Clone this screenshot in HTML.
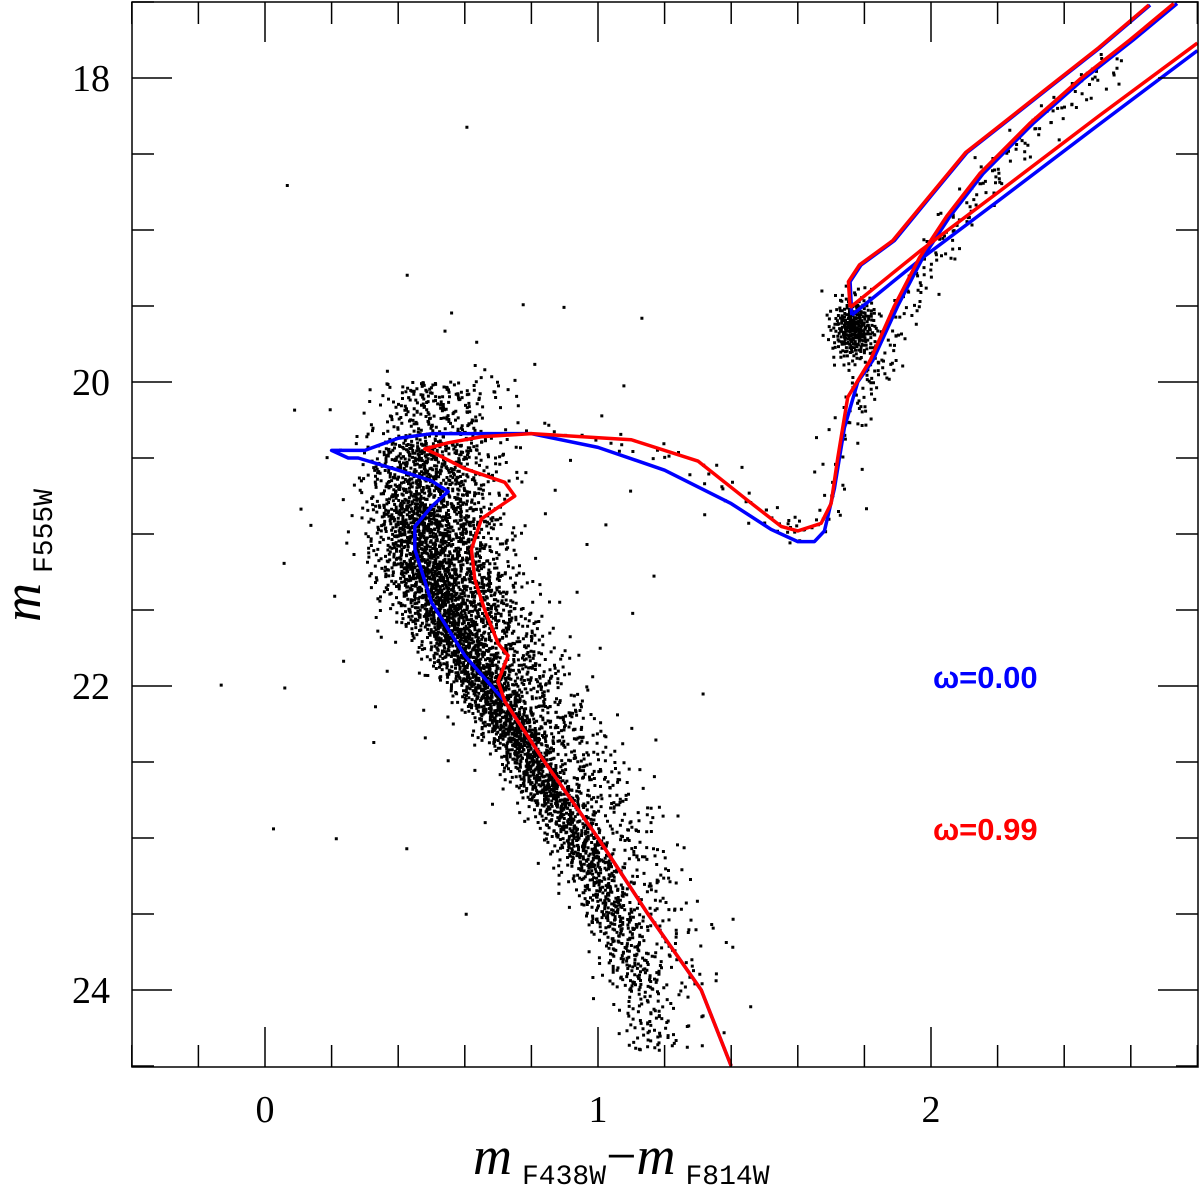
<!DOCTYPE html>
<html><head><meta charset="utf-8"><style>
html,body{margin:0;padding:0;background:#fff}
svg{display:block}
</style></head><body>
<svg id="chart" width="1200" height="1190">
<g id="stars"></g>
<g id="lines"></g>
<rect x="132" y="2" width="1066" height="1065" fill="none" stroke="#000" stroke-width="1.5"/>
<g id="axes"></g>
<text x="933" y="688" style="font-family:'Liberation Sans',sans-serif;font-weight:bold;font-size:31px" fill="#0000ff">ω=0.00</text>
<text x="933" y="840" style="font-family:'Liberation Sans',sans-serif;font-weight:bold;font-size:31px" fill="#ff0000">ω=0.99</text>
<text x="473" y="1174" style="font-family:'Liberation Serif',serif;font-size:54px;font-style:italic">m<tspan style="font-style:normal;font-family:'Liberation Mono',monospace;font-size:28px" dx="10" dy="10">F438W</tspan><tspan dy="-10" style="font-style:normal">−</tspan>m<tspan style="font-style:normal;font-family:'Liberation Mono',monospace;font-size:28px" dx="10" dy="10">F814W</tspan></text>
<text transform="translate(40,622) rotate(-90)" style="font-family:'Liberation Serif',serif;font-size:54px;font-style:italic">m<tspan style="font-style:normal;font-family:'Liberation Mono',monospace;font-size:28px" dx="10" dy="12">F555W</tspan></text>
</svg>
<script>
const xTicks=[0,1,2];
const yTicks=[18,20,22,24];
// Isochrone omega=0.00 (blue)
const blueMS=[[1.40,24.5],[1.31,24.0],[1.15,23.5],[1.0,23.0],[0.84,22.5],[0.72,22.1],[0.6,21.8],[0.5,21.45],[0.45,21.1],[0.45,20.95],[0.5,20.82],[0.55,20.72],[0.5,20.65],[0.4,20.58],[0.28,20.5],[0.25,20.5],[0.2,20.45],[0.3,20.45],[0.4,20.37],[0.5,20.34],[0.8,20.34],[1.0,20.43],[1.2,20.58],[1.4,20.8],[1.52,20.97],[1.6,21.05],[1.65,21.05],[1.68,20.98],[1.71,20.7],[1.74,20.3],[1.78,20.0],[1.826,19.855],[1.9,19.5],[1.976,19.18],[2.057,18.91],[2.156,18.63],[2.306,18.30],[2.456,18.01],[2.607,17.75],[2.739,17.51]];
const blueHB=[[1.762,19.56],[1.976,19.18],[2.207,18.80],[2.508,18.30],[2.8,17.82]];
const blueAGB=[[1.762,19.56],[1.757,19.34],[1.79,19.23],[1.89,19.07],[2.006,18.76],[2.108,18.49],[2.207,18.32],[2.357,18.06],[2.508,17.80],[2.658,17.52]];
// Isochrone omega=0.99 (red)
const redMS=[[1.40,24.5],[1.31,24.0],[1.15,23.5],[1.0,23.0],[0.84,22.5],[0.72,22.1],[0.7,21.97],[0.73,21.8],[0.7,21.72],[0.66,21.5],[0.63,21.3],[0.62,21.1],[0.65,20.9],[0.75,20.75],[0.72,20.66],[0.6,20.57],[0.52,20.48],[0.48,20.44],[0.55,20.4],[0.65,20.36],[0.8,20.34],[1.1,20.38],[1.3,20.52],[1.45,20.78],[1.55,20.95],[1.6,20.98],[1.67,20.93],[1.7,20.8],[1.72,20.5],[1.75,20.1],[1.818,19.855],[1.89,19.5],[1.966,19.18],[2.047,18.91],[2.146,18.63],[2.296,18.30],[2.446,18.01],[2.597,17.75],[2.729,17.51]];
const redHB=[[1.757,19.51],[1.972,19.13],[2.203,18.75],[2.504,18.25],[2.8,17.77]];
const redAGB=[[1.757,19.51],[1.752,19.34],[1.785,19.23],[1.885,19.07],[2.002,18.76],[2.104,18.49],[2.203,18.32],[2.353,18.06],[2.504,17.80],[2.654,17.52]];
// Star population components
const msRidgeMag=[20.0,20.4,20.8,21.2,21.6,22.0,22.4,22.8,23.2,23.6,24.0,24.4];
const msRidgeColor=[0.50,0.47,0.46,0.49,0.56,0.67,0.78,0.89,0.99,1.07,1.13,1.18];
const msSpread=[0.08,0.08,0.075,0.075,0.065,0.055,0.05,0.05,0.05,0.05,0.05,0.05];
const msCount=[200,480,700,760,660,600,460,330,240,160,80,30];
const binaryCount=[30,90,130,140,120,100,80,60,45,30,12,3];
const clump=[1.77,19.65,0.035,0.11,300];
const rgbCount=220;
const fieldCount=110;

const X=c=>265+(c)*333, Y=m=>78+(m-18)*152;
const NS='http://www.w3.org/2000/svg';
const ax=document.getElementById('axes');
function ln(x1,y1,x2,y2,name){const l=document.createElementNS(NS,'line');l.setAttribute('x1',x1);l.setAttribute('y1',y1);l.setAttribute('x2',x2);l.setAttribute('y2',y2);l.setAttribute('stroke','#000');l.setAttribute('stroke-width','1.5');


ax.appendChild(l);}
for(let v=-0.4;v<=2.81;v+=0.2){const x=X(v);const major=Math.abs(v-Math.round(v))<1e-6;const L=major?40:22;ln(x,1067,x,1067-L,'x-tick');ln(x,2,x,2+L,'x-tick');}
for(let m=17.5;m<=24.51;m+=0.5){const y=Y(m);const major=Math.abs(m-Math.round(m))<1e-6&&Math.round(m)%2==0;const L=major?40:22;ln(132,y,132+L,y,'y-tick');ln(1198,y,1198-L,y,'y-tick');}
xTicks.forEach(v=>{const t=document.createElementNS(NS,'text');t.setAttribute('x',X(v));t.setAttribute('y',1122);t.setAttribute('text-anchor','middle');t.setAttribute('style',"font-family:'Liberation Serif',serif;font-size:38px");t.textContent=v;


ax.appendChild(t);});
yTicks.forEach(v=>{const t=document.createElementNS(NS,'text');t.setAttribute('x',110);t.setAttribute('y',Y(v)+13);t.setAttribute('text-anchor','end');t.setAttribute('style',"font-family:'Liberation Serif',serif;font-size:38px");t.textContent=v;


ax.appendChild(t);});

const lg=document.getElementById('lines');
function poly(pts,col){const p=document.createElementNS(NS,'polyline');p.setAttribute('points',pts.map(q=>X(q[0])+','+Y(q[1])).join(' '));p.setAttribute('fill','none');p.setAttribute('stroke',col);p.setAttribute('stroke-width','3.5');p.setAttribute('stroke-linejoin','round');


lg.appendChild(p);}
[blueMS,blueHB,blueAGB].forEach(a=>poly(a,'#0000ff'));
[redMS,redHB,redAGB].forEach(a=>poly(a,'#ff0000'));

function halton(i,b){let f=1,r=0;while(i>0){f/=b;r+=f*(i%b);i=Math.floor(i/b);}return r;}
let hi=1;
function g2(){const u=Math.max(1e-4,halton(hi,2)),v=halton(hi,3),w=halton(hi,5);hi++;const r=Math.sqrt(-2*Math.log(u));return [r*Math.cos(2*Math.PI*v),r*Math.sin(2*Math.PI*v),w];}
const sg=document.getElementById('stars');let d='';
function dot(c,m){const x=X(c),y=Y(m);if(x<134||x>1196||y<4||y>1065)return;d+='M'+(x-1.5).toFixed(1)+' '+(y-1.5).toFixed(1)+'h3v3h-3z';}
function interp(pts,t){const n=pts.length-1;const s=t*n;const i=Math.min(n-1,Math.floor(s));const f=s-i;return [pts[i][0]+(pts[i+1][0]-pts[i][0])*f,pts[i][1]+(pts[i+1][1]-pts[i][1])*f];}
for(let k=0;k<msRidgeMag.length-1;k++){
 for(let j=0;j<msCount[k];j++){const g=g2();const m=msRidgeMag[k]+(msRidgeMag[k+1]-msRidgeMag[k])*g[2];const c=msRidgeColor[k]+(msRidgeColor[k+1]-msRidgeColor[k])*g[2]+g[0]*msSpread[k];dot(c,m);}
 for(let j=0;j<binaryCount[k];j++){const g=g2();const m=msRidgeMag[k]+(msRidgeMag[k+1]-msRidgeMag[k])*g[2];const c=msRidgeColor[k]+(msRidgeColor[k+1]-msRidgeColor[k])*g[2]+0.1+Math.abs(g[0])*0.08;dot(c,m-Math.abs(g[1])*0.1);}
}
for(let j=0;j<clump[4];j++){const g=g2();dot(clump[0]+g[0]*clump[2],clump[1]+g[1]*clump[3]);}
for(let j=0;j<rgbCount;j++){const g=g2();const p=interp(blueMS.slice(29),g[2]*0.85);dot(p[0]+0.03+g[0]*0.03,p[1]+g[1]*0.05);}
for(let j=0;j<80;j++){const g=g2();const p=interp(redMS.slice(20,30),g[2]);dot(p[0]+g[0]*0.04,p[1]+g[1]*0.05);}
for(let j=0;j<fieldCount;j++){const g=g2();dot(0.62+g[0]*0.3,21.2+g[1]*1.0);}
const path=document.createElementNS(NS,'path');path.setAttribute('d',d);path.setAttribute('fill','#000');


sg.appendChild(path);
</script>
</body></html>
